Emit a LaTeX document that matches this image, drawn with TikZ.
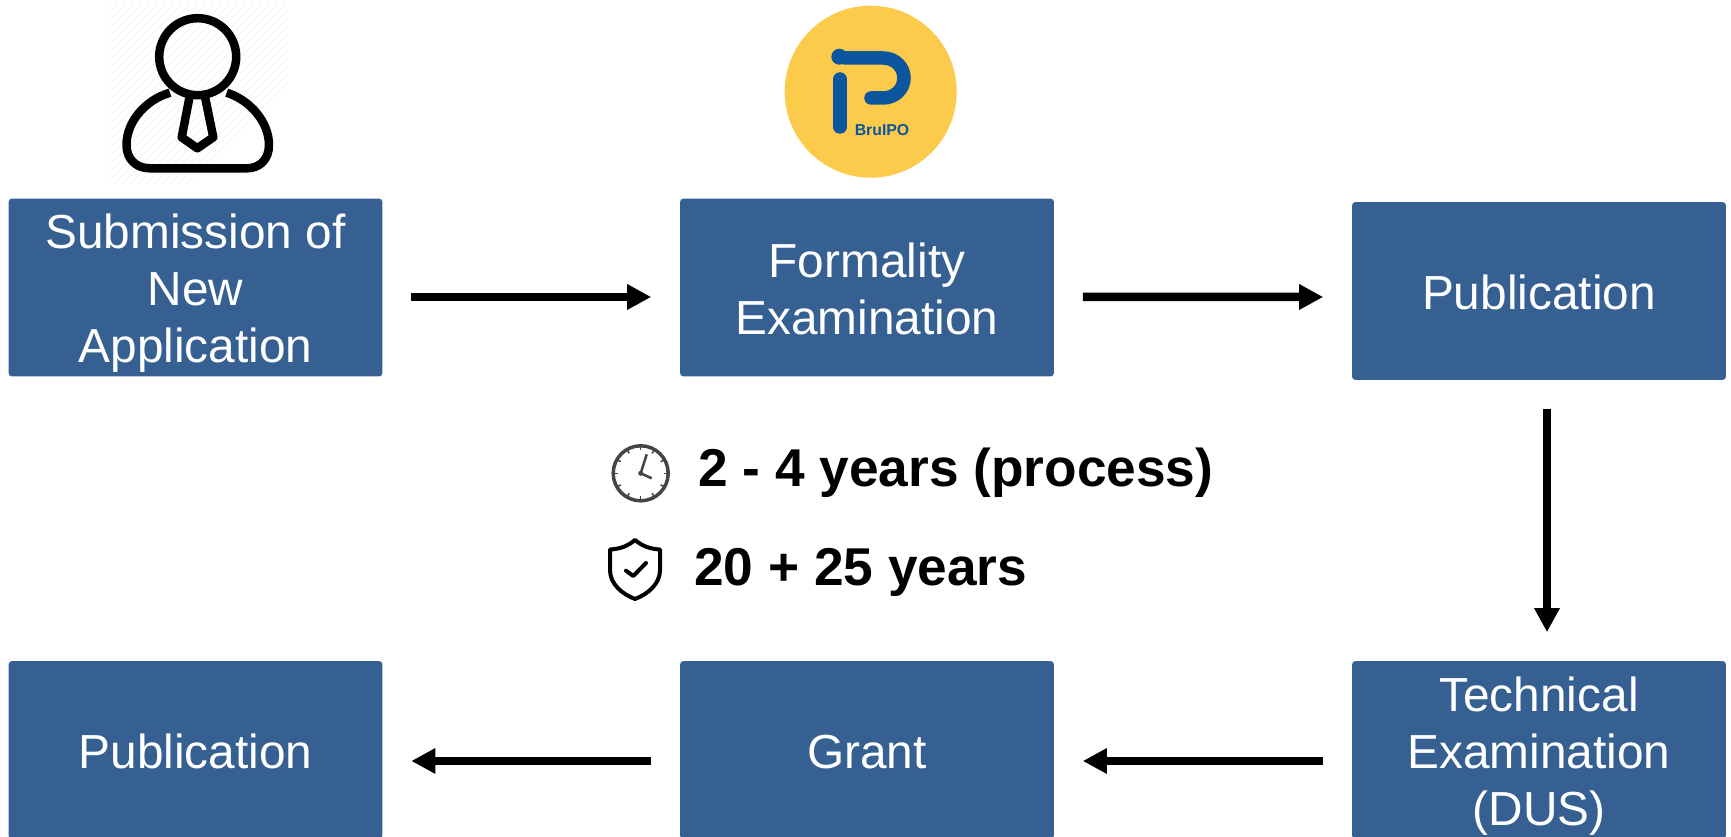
\documentclass[tikz,border=0pt]{standalone}
\usepackage{fontspec}
\setmainfont{Liberation Sans}
\usetikzlibrary{arrows.meta}
\definecolor{boxblue}{HTML}{376092}
\definecolor{logoblue}{HTML}{0B569E}
\definecolor{logoyellow}{HTML}{FDCB4B}
\definecolor{clockgray}{HTML}{444444}
\begin{document}
\begin{tikzpicture}[x=0.02cm, y=-0.02cm,
    stepbox/.style = {rectangle, fill=boxblue, rounded corners=2pt, minimum width=7.48cm, minimum height=3.56cm, inner sep=0pt, align=center, text=white, font=\fontsize{27.2}{32.4}\selectfont,
      execute at begin node={\rule{0pt}{\dimexpr26.8pt+32.4pt*(#1-1)\relax}}, execute at end node={\rule[-6pt]{0pt}{6pt}}},
    stepbox/.default = 1,
    arrow/.style = {-{Triangle[length=0.48cm, width=0.48cm]}, line width=0.17cm, shorten >=0.57cm, shorten <=0.57cm},
    icon/.style = {line width=0.17cm, line join=round},
    bigtext/.style = {anchor=base west, inner sep=0pt, font=\fontsize{30.3}{36}\selectfont\bfseries}]
    \useasboundingbox (0,0) rectangle (1731,837);

    % hatching behind the person
    \begin{scope}
      \clip (108,5) rectangle (287,183);
      \foreach \x in {-180,-172,...,180}
      {
        \draw [black!6, line width=0.3pt] (\x,190) -- (\x+190,0);
      }
    \end{scope}

    % boxes
    \node (submission) [stepbox=3] at (195.5,287.5) {Submission of\\New\\Application};
    \node (formality) [stepbox=2] at (867,287.5) {Formality\\Examination};
    \node (publicationA) [stepbox] at (1539,291) {Publication};
    \node (technical) [stepbox=3] at (1539,750) {Technical\\Examination\\(DUS)};
    \node (grant) [stepbox] at (867,750) {Grant};
    \node (publicationB) [stepbox] at (195.5,750) {Publication};

    % arrows
    \draw [arrow] ([yshift=-0.19cm]submission.east) -- ([yshift=-0.19cm]formality.west);
    \draw [arrow] ([yshift=-0.19cm]formality.east) -- ([yshift=-0.12cm]publicationA.west);
    \draw [arrow] ([xshift=0.16cm]publicationA.south) -- ([xshift=0.16cm]technical.north);
    \draw [arrow] ([yshift=-0.22cm]technical.west) -- ([yshift=-0.22cm]grant.east);
    \draw [arrow] ([yshift=-0.22cm]grant.west) -- ([yshift=-0.22cm]publicationB.east);

    % texts in the middle
    \node (process) [bigtext] at (698,487) {2 - 4 years (process)};
    \node (term) [bigtext] at (694,585.5) {20 + 25 years};

    % person
    \draw [icon] (197.7,56.7) circle (38.5);
    \draw [icon] (170,92.7) .. controls (145,100) and (126.5,122) .. (126.5,145) .. controls (126.5,159) and (136,168.3) .. (150,168.3) -- (247,168.3) .. controls (260,168.3) and (269,159) .. (269,145) .. controls (269,122) and (250,100) .. (226.7,92.7);
    \draw [icon] (189.3,98.3) -- (181.7,137.3) -- (197.3,148.3) -- (213.3,137.3) -- (205.3,98.3);

    % logo
    \fill [logoyellow] (870.7,91.7) circle (86);
    \draw [logoblue, line width=0.27cm, line cap=round] (840,79) -- (840,127);
    \fill [logoblue] (839.3,56.7) circle (8);
    \draw [logoblue, line width=0.27cm, line cap=round] (845,58) -- (883,58) .. controls (895,58) and (904,67) .. (904,78) .. controls (904,89) and (895,98) .. (883,98) -- (871,98);
    \node (logotext) [text=logoblue, inner sep=0pt, font=\fontsize{9}{11}\selectfont\bfseries] at (882,130) {BruIPO};

    % clock
    \draw [clockgray, line width=0.07cm] (640.7,473.3) circle (27.5);
    \foreach \a in {0,30,...,330}
    {
      \draw [clockgray, line width=0.03cm] (640.7,473.3) ++(\a:27) -- ++(\a+180:4);
    }
    \draw [clockgray, line width=0.05cm] (646.7,454.3) -- (640.7,473.3) -- (651.7,478.3);
    \fill [clockgray] (640.7,473.3) circle (2.5);

    % shield
    \draw [line width=0.08cm, line join=round] (635,540) .. controls (628,546) and (620,549) .. (610,549.5) -- (610,570) .. controls (610,584) and (622,594) .. (635,599) .. controls (648,594) and (660,584) .. (660,570) -- (660,549.5) .. controls (650,549) and (642,546) .. (635,540) -- cycle;
    \draw [line width=0.08cm, line cap=round, line join=round] (626,570.7) -- (633.3,576) -- (646,563);
\end{tikzpicture}
\end{document}
